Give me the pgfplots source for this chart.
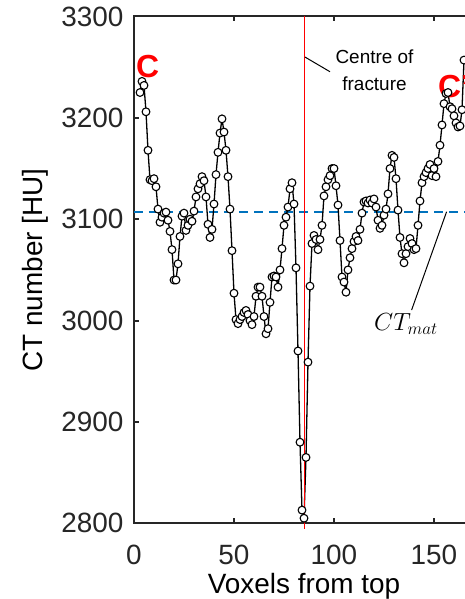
\documentclass[border=0pt]{standalone}
\usepackage{pgfplots}
\pgfplotsset{compat=1.18}
\usepackage{pgfplotstable}
\usepackage{fontspec}
\setmainfont{Liberation Sans}
\definecolor{mblue}{RGB}{0,114,189}
\definecolor{axgray}{RGB}{38,38,38}
\pgfplotstableread{
x v
3 3225
4 3236
5 3232
6 3206
7 3168
8 3139
9 3138
10 3140
11 3132
12 3110
13 3097
14 3102
15 3106
16 3107
17 3099
18 3088
19 3070
20 3040
21 3040
22 3056
23 3083
24 3103
25 3106
26 3089
27 3094
28 3100
29 3098
30 3108
31 3122
32 3130
33 3135
34 3142
35 3138
36 3122
37 3095
38 3082
39 3090
40 3115
41 3144
42 3166
43 3185
44 3199
45 3186
46 3168
47 3142
48 3110
49 3069
50 3027
51 3001
52 2997
53 3001
54 3004
55 3008
56 3010
57 3006
58 3000
59 2996
60 3004
61 3024
62 3033
63 3033
64 3024
65 3004
66 2987
67 2992
68 3018
69 3043
70 3044
71 3043
72 3033
73 3050
74 3071
75 3094
76 3102
77 3112
78 3130
79 3136
80 3115
81 3052
82 2970
83 2880
84 2813
85 2805
86 2865
87 2959
88 3034
89 3076
90 3084
91 3080
92 3070
93 3080
94 3094
95 3123
96 3132
97 3139
98 3143
99 3150
100 3150
101 3133
102 3114
103 3079
104 3043
105 3038
106 3028
107 3050
108 3062
109 3071
110 3078
111 3083
112 3079
113 3090
114 3106
115 3117
116 3118
117 3116
118 3119
119 3116
120 3120
121 3112
122 3099
123 3091
124 3094
125 3104
126 3110
127 3125
128 3150
129 3163
130 3161
131 3140
132 3109
133 3082
134 3066
135 3057
136 3066
137 3073
138 3081
139 3076
140 3070
141 3071
142 3094
143 3118
144 3136
145 3142
146 3146
147 3150
148 3154
149 3143
150 3150
151 3142
152 3157
153 3173
154 3193
155 3214
156 3224
157 3225
158 3211
159 3209
160 3202
161 3195
162 3191
163 3192
164 3208
165 3257
}\ctdata
\begin{document}
\begin{tikzpicture}
\begin{axis}[
  at={(0,0)}, anchor=south west,
  scale only axis,
  width=340bp, height=506.8bp,
  xmin=0, xmax=170, ymin=2800, ymax=3300,
  xtick={0,50,100,150}, ytick={2800,2900,...,3300},
  tick align=inside,
  major tick length=5bp,
  axis line style={line width=2bp, color=axgray},
  every tick/.style={line width=2bp, color=axgray},
  tick label style={font=\fontsize{28}{30}\selectfont, text=axgray},
  xticklabel style={yshift=-18bp},
  yticklabel style={xshift=-7bp},
  /pgf/number format/assume math mode=true,
  /pgf/number format/set thousands separator={},
  xlabel={Voxels from top}, ylabel={CT number [HU]},
  label style={font=\fontsize{28}{30}\selectfont, text=black},
  xlabel style={yshift=-2bp},
  ylabel style={yshift=6bp},
  clip=false,
]
\addplot[mblue, line width=2bp, dash pattern=on 9bp off 6bp] coordinates {(0,3107) (170,3107)};
\addplot[black, line width=1.3bp, mark=*, mark size=3.9bp,
  mark options={fill=white, draw=black, line width=1.1bp}] table[x=x, y=v] {\ctdata};
\draw[red, line width=1.3bp] (axis cs:85.3,3300) -- (axis cs:85.3,2794);
\draw[black, line width=1bp] (axis cs:85.5,3260) -- (axis cs:98,3245.5);
\node[anchor=base, inner sep=0pt, font=\fontsize{19}{22}\selectfont] at (axis cs:120.25,3254) {Centre of};
\node[anchor=base, inner sep=0pt, font=\fontsize{19}{22}\selectfont] at (axis cs:120.25,3227) {fracture};
\draw[black, line width=1bp] (axis cs:138.8,3010.4) -- (axis cs:156.3,3107.4);
\node[anchor=base west, inner sep=0pt, font=\fontsize{24}{26}\selectfont] at (axis cs:120,2990) {$CT_{mat}$};
\node[anchor=base west, inner sep=0pt, text=red, font=\fontsize{32}{34}\selectfont\bfseries] at (axis cs:1,3240) {C};
\node[anchor=base west, inner sep=0pt, text=red, font=\fontsize{32}{34}\selectfont\bfseries] at (axis cs:152,3220) {C'};
\coordinate (o) at (axis cs:0,2800);
\end{axis}
\pgfresetboundingbox
\useasboundingbox ([shift={(-134bp,-75.7bp)}]o) rectangle ([shift={(331bp,523.3bp)}]o);
\end{tikzpicture}
\end{document}
